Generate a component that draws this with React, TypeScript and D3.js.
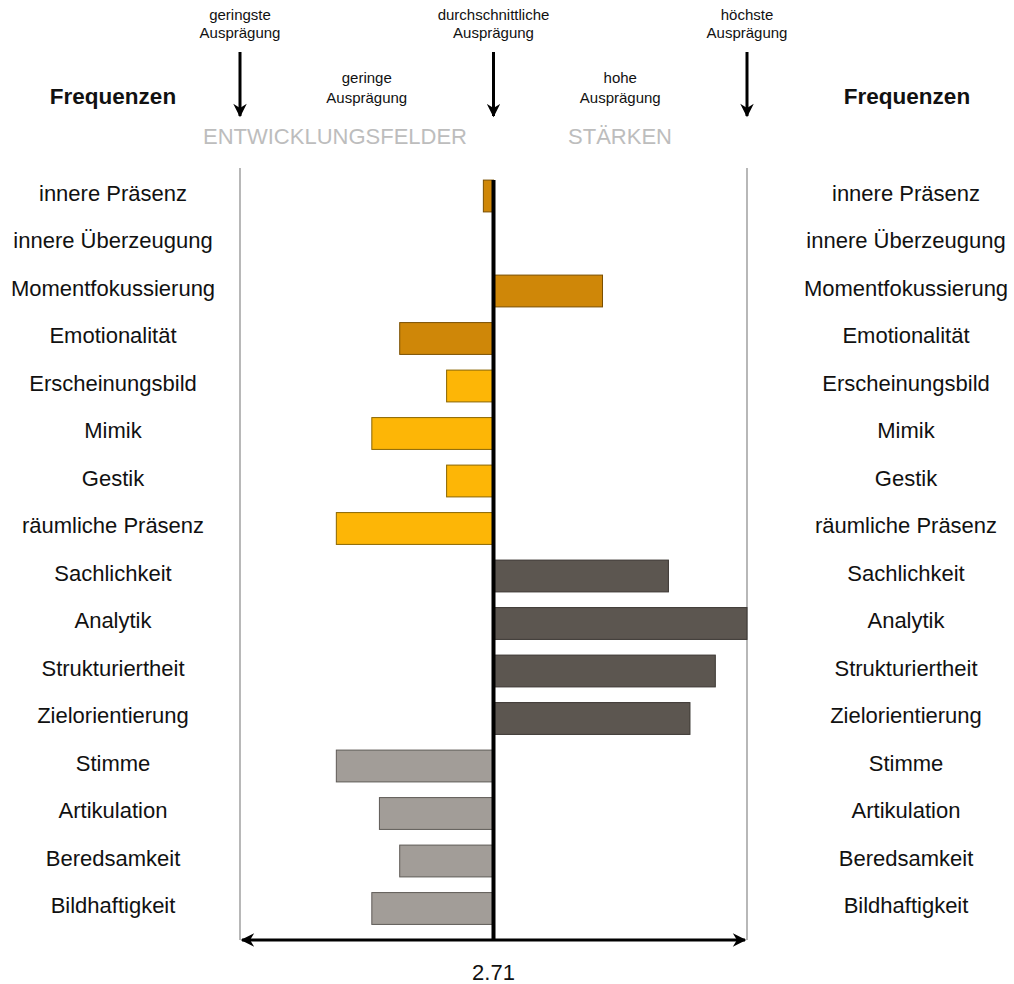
import React from "react";
import * as d3 from "d3";

const categories = [
  "innere Präsenz",
  "innere Überzeugung",
  "Momentfokussierung",
  "Emotionalität",
  "Erscheinungsbild",
  "Mimik",
  "Gestik",
  "räumliche Präsenz",
  "Sachlichkeit",
  "Analytik",
  "Strukturiertheit",
  "Zielorientierung",
  "Stimme",
  "Artikulation",
  "Beredsamkeit",
  "Bildhaftigkeit",
];

// deviation from the mean (2.71), relative to the full range (-1 = lowest, 1 = highest)
const deviations = [
  -0.04, 0, 0.43, -0.37, -0.185, -0.48, -0.185, -0.62, 0.69, 1.0, 0.875, 0.775,
  -0.62, -0.45, -0.37, -0.48,
];

const groups = [0, 0, 0, 0, 1, 1, 1, 1, 2, 2, 2, 2, 3, 3, 3, 3];
const groupColors = ["#cf8708", "#fdb606", "#5c5650", "#a29d98"];
const groupStroke = ["#7a4f00", "#8a6500", "#3a3632", "#5e5a56"];

const meanLabel = "2.71";

const W = 1014;
const H = 984;

export default function App() {
  const x = d3.scaleLinear().domain([-1, 1]).range([240, 747]);
  const y = d3
    .scaleBand<string>()
    .domain(categories)
    .range([172.25, 932.25])
    .paddingInner(0.33)
    .paddingOuter(0.165);

  const cx = x(0);
  const font = "Liberation Sans, Arial, Helvetica, sans-serif";
  const arrowXs = [x(-1), x(0), x(1)];
  const axisY = 940;

  return (
    <svg
      width={W}
      height={H}
      style={{ position: "absolute", left: 0, top: 0, background: "#fff" }}
      fontFamily={font}
    >
      <defs>
        <marker
          id="ah"
          viewBox="0 0 10 10"
          refX="9"
          refY="5"
          markerWidth="5"
          markerHeight="4.5"
          orient="auto-start-reverse"
        >
          <path d="M0,0 L10,5 L0,10 L3,5 Z" fill="#000" />
        </marker>
      </defs>

      {/* header labels */}
      {[
        { x: arrowXs[0], t: ["geringste", "Ausprägung"] },
        { x: arrowXs[1], t: ["durchschnittliche", "Ausprägung"] },
        { x: arrowXs[2], t: ["höchste", "Ausprägung"] },
      ].map((h, i) => (
        <text key={i} x={h.x} textAnchor="middle" fontSize={15} fill="#111">
          <tspan x={h.x} y={20}>
            {h.t[0]}
          </tspan>
          <tspan x={h.x} y={38}>
            {h.t[1]}
          </tspan>
        </text>
      ))}
      {[
        { x: x(-0.5), t: ["geringe", "Ausprägung"] },
        { x: x(0.5), t: ["hohe", "Ausprägung"] },
      ].map((h, i) => (
        <text key={i} x={h.x} textAnchor="middle" fontSize={15} fill="#111">
          <tspan x={h.x} y={83}>
            {h.t[0]}
          </tspan>
          <tspan x={h.x} y={103}>
            {h.t[1]}
          </tspan>
        </text>
      ))}
      {arrowXs.map((ax, i) => (
        <line
          key={i}
          x1={ax}
          x2={ax}
          y1={52}
          y2={116}
          stroke="#000"
          strokeWidth={3}
          markerEnd="url(#ah)"
        />
      ))}
      <text x={335} y={144} textAnchor="middle" fontSize={22} fill="#bdbdbd">
        ENTWICKLUNGSFELDER
      </text>
      <text x={620} y={144} textAnchor="middle" fontSize={22} fill="#bdbdbd">
        STÄRKEN
      </text>
      <text x={113} y={104} textAnchor="middle" fontSize={22.5} fontWeight="bold" fill="#111">
        Frequenzen
      </text>
      <text x={907} y={104} textAnchor="middle" fontSize={22.5} fontWeight="bold" fill="#111">
        Frequenzen
      </text>

      {/* frame lines */}
      <line x1={x(-1)} x2={x(-1)} y1={168} y2={axisY} stroke="#888" strokeWidth={1.2} />
      <line x1={x(1)} x2={x(1)} y1={168} y2={axisY} stroke="#888" strokeWidth={1.2} />

      {/* bars */}
      {categories.map((c, i) => {
        const v = deviations[i];
        if (v === 0) return null;
        const x0 = Math.min(x(0), x(v));
        const w = Math.abs(x(v) - x(0));
        return (
          <rect
            key={c}
            x={x0}
            y={y(c)}
            width={w}
            height={y.bandwidth()}
            fill={groupColors[groups[i]]}
            stroke={groupStroke[groups[i]]}
            strokeWidth={1}
          />
        );
      })}

      {/* center line */}
      <line
        x1={cx}
        x2={cx}
        y1={y(categories[0]) as number}
        y2={axisY}
        stroke="#000"
        strokeWidth={4}
      />

      {/* labels */}
      {categories.map((c) => {
        const yy = (y(c) as number) + y.bandwidth() / 2 - 1;
        return (
          <g key={c}>
            <text x={113} y={yy} textAnchor="middle" fontSize={22} fill="#111" dominantBaseline="middle">
              {c}
            </text>
            <text x={906} y={yy} textAnchor="middle" fontSize={22} fill="#111" dominantBaseline="middle">
              {c}
            </text>
          </g>
        );
      })}

      {/* bottom axis */}
      <line
        x1={x(-1) + 2}
        x2={x(1) - 2}
        y1={axisY}
        y2={axisY}
        stroke="#000"
        strokeWidth={3}
        markerStart="url(#ah)"
        markerEnd="url(#ah)"
      />
      <text x={cx} y={980} textAnchor="middle" fontSize={22} fill="#111">
        {meanLabel}
      </text>
    </svg>
  );
}
